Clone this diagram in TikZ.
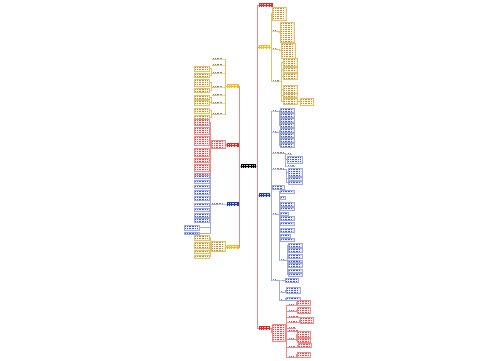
\documentclass[tikz,border=0pt]{standalone}
\usepackage{tikz}
\definecolor{redM}{RGB}{222,40,40}
\definecolor{yelM}{RGB}{240,188,30}
\definecolor{bluM}{RGB}{28,58,168}
\definecolor{yelF}{RGB}{253,248,232}
\definecolor{yelD}{RGB}{226,192,110}
\definecolor{yelT}{RGB}{185,145,70}
\definecolor{redF}{RGB}{253,238,238}
\definecolor{redD}{RGB}{234,140,140}
\definecolor{redT}{RGB}{215,80,80}
\definecolor{bluF}{RGB}{240,243,252}
\definecolor{bluD}{RGB}{160,170,220}
\definecolor{bluT}{RGB}{70,90,190}

\tikzset{
  txtlines/.style={path picture={
      \foreach \k in {1,...,18}
        \draw[#1, line width=0.45pt, dash pattern=on 1pt off 0.6pt]
          ([xshift=1.4pt,yshift=-\k*2pt+0.4pt]path picture bounding box.north west) --
          ([xshift=-1.4pt,yshift=-\k*2pt+0.4pt]path picture bounding box.north east);}},
  mainnode/.style={rectangle, fill=#1, minimum height=4, txtlines=white!80!#1},
  leafY/.style={rectangle, draw=yelD, fill=yelF, line width=0.3pt, txtlines=yelT},
  leafR/.style={rectangle, draw=redD, fill=redF, line width=0.3pt, txtlines=redT},
  leafB/.style={rectangle, draw=bluD, fill=bluF, line width=0.3pt, txtlines=bluT},
  subnode/.style={rectangle, minimum height=2, txtlines=#1},
  linkM/.style={draw=redD, line width=0.5pt},
  linkY/.style={draw=yelD, line width=0.4pt},
  linkR/.style={draw=redD, line width=0.4pt},
  linkB/.style={draw=bluD, line width=0.4pt}
}

\begin{document}
\begin{tikzpicture}[x=1pt, y=-1pt, every node/.style={inner sep=0pt, outer sep=0pt, anchor=north west}]
  \useasboundingbox (0,0) rectangle (500,360);

  % centre and main branches
  \node[mainnode=black, minimum width=15] (root) at (241,164) {};
  \node[mainnode=redM, minimum width=14] (r1) at (259,3) {};
  \node[mainnode=yelM, minimum width=11] (r2) at (259,45) {};
  \node[mainnode=bluM, minimum width=11] (r3) at (259,193) {};
  \node[mainnode=redM, minimum width=11] (r4) at (259,326) {};
  \node[mainnode=yelM, minimum width=12] (l1) at (227,84) {};
  \node[mainnode=redM, minimum width=12] (l2) at (227,143) {};
  \node[mainnode=bluM, minimum width=12] (l3) at (227,202) {};
  \node[mainnode=yelM, minimum width=12] (l4) at (227,245) {};
  \foreach \n in {r1,r2,r3,r4}
    \draw[linkM] (root.east) -- ++(1.5,0) |- (\n.west);
  \foreach \n in {l1,l2,l3,l4}
    \draw[linkM] (root.west) -- ++(-1.5,0) |- (\n.east);

  % right, yellow
  \node[leafY, minimum width=14, minimum height=13] (r2a) at (272,7) {};
  \node[subnode=gray, minimum width=6] (r2s1) at (272,29) {};
  \node[subnode=gray, minimum width=6] (r2s2) at (272,47) {};
  \node[subnode=gray, minimum width=8] (r2s3) at (272,79) {};
  \node[leafY, minimum width=14, minimum height=20] (r2b) at (280,22) {};
  \node[leafY, minimum width=14, minimum height=15] (r2c) at (281,43) {};
  \draw[linkY] (r2.east) -- ++(1.5,0) |- (r2a.west);
  \foreach \n in {r2s1,r2s2,r2s3}
    \draw[linkY] (r2.east) -- ++(1.5,0) |- (\n.south west) -- (\n.south east);
  \draw[linkY] (r2s1.south east) -- ++(1,0) |- (r2b.west);
  \draw[linkY] (r2s2.south east) -- ++(1,0) |- (r2c.west);
  \foreach \y/\h [count=\i] in {58/8,67/5,73/6,85/8,93/4,98/6} {
    \node[leafY, minimum width=14, minimum height=\h] (r2x\i) at (283,\y) {};
    \draw[linkY] (r2s3.south east) -- ++(1.5,0) |- (r2x\i.west);
  }
  \node[leafY, minimum width=13, minimum height=7] (r2y) at (300,98) {};
  \draw[linkY] (r2x6.east) -- (r2y.west |- r2x6.east);

  % right, blue
  \node[subnode=gray, minimum width=6] (b1) at (272,109) {};
  \node[subnode=gray, minimum width=6] (b2) at (272,130) {};
  \node[subnode=gray, minimum width=13] (b3) at (272,151) {};
  \node[subnode=gray, minimum width=13] (b4) at (272,167) {};
  \node[leafB, minimum width=12, minimum height=4] (b5) at (272,185) {};
  \node[subnode=gray, minimum width=6] (b6) at (272,212) {};
  \node[subnode=gray, minimum width=6] (b8) at (272,278) {};
  \draw[linkB] (r3.east) -- ++(1.5,0) |- (b5.west);
  \foreach \n in {b1,b2,b3,b4,b6,b8}
    \draw[linkB] (r3.east) -- ++(1.5,0) |- (\n.south west) -- (\n.south east);
  \foreach \y [count=\i] in {108,113,118,123} {
    \node[leafB, minimum width=14, minimum height=4] (b1x\i) at (280,\y) {};
    \draw[linkB] (b1.south east) -- ++(1,0) |- (b1x\i.west);
  }
  \foreach \y [count=\i] in {128,133,138,143} {
    \node[leafB, minimum width=14, minimum height=4] (b2x\i) at (280,\y) {};
    \draw[linkB] (b2.south east) -- ++(1,0) |- (b2x\i.west);
  }
  \node[subnode=gray, minimum width=5] (b3s1) at (287,152) {};
  \node[leafB, minimum width=15, minimum height=7] (b3x) at (287,156) {};
  \node[subnode=gray, minimum width=8] (b3s2) at (287,164) {};
  \draw[linkB] (b3.south east) -- ++(0.5,0) |- (b3x.west);
  \foreach \n in {b3s1,b3s2}
    \draw[linkB] (b3.south east) -- ++(0.5,0) |- (\n.south west) -- (\n.south east);
  \foreach \y/\h [count=\i] in {168/8,177/3,181/3} {
    \node[leafB, minimum width=14, minimum height=\h] (b4x\i) at (288,\y) {};
    \draw[linkB] (b4.south east) -- ++(1,0) |- (b4x\i.west);
  }
  \foreach \y/\w/\h [count=\i] in {190/14/3,196/5/3,202/14/4,207/14/3,212/8/3,216/14/4,222/14/3,228/14/4,234/10/3,238/14/3} {
    \node[leafB, minimum width=\w, minimum height=\h] (b6x\i) at (280,\y) {};
    \draw[linkB] (b6.south east) -- ++(1,0) |- (b6x\i.west);
  }
  \node[subnode=gray, minimum width=6] (b7) at (280,258) {};
  \draw[linkB] (b6.south east) -- ++(1,0) |- (b7.south west) -- (b7.south east);
  \foreach \y/\h [count=\i] in {243/4,248/4,254/4,260/2,263/4,269/3,273/3} {
    \node[leafB, minimum width=14, minimum height=\h] (b7x\i) at (288,\y) {};
    \draw[linkB] (b7.south east) -- ++(1,0) |- (b7x\i.west);
  }
  \node[leafB, minimum width=13, minimum height=4] (b8x) at (285,278) {};
  \node[subnode=gray, minimum width=4] (b8a) at (280,290) {};
  \node[subnode=gray, minimum width=4] (b8b) at (280,298) {};
  \node[leafB, minimum width=14, minimum height=6] (b8ax) at (286,287) {};
  \node[leafB, minimum width=14, minimum height=3] (b8bx) at (286,297) {};
  \draw[linkB] (b8.south east) -- ++(1,0) |- (b8x.west);
  \foreach \n in {b8a,b8b}
    \draw[linkB] (b8.south east) -- ++(1,0) |- (\n.south west) -- (\n.south east);
  \draw[linkB] (b8a.south east) -- ++(1,0) |- (b8ax.west);
  \draw[linkB] (b8b.south east) -- ++(1,0) |- (b8bx.west);

  % right, red
  \node[leafR, minimum width=13, minimum height=17] (r4c) at (272,324) {};
  \draw[linkR] (r4.east) -- ++(1,0) |- (r4c.west);
  \foreach \y/\w [count=\i] in {303/7,309/7,315/12,320/10,326/8,329/12,337/7,345/8,355/7} {
    \node[subnode=redT, minimum width=\w] (r4s\i) at (288,\y) {};
    \draw[linkR] (r4c.east) -- ++(1.5,0) |- (r4s\i.south west) -- (r4s\i.south east);
  }
  \foreach \s/\x/\y/\h [count=\i] in {1/297/300/5,2/297/307/6,4/300/317/6,7/297/331/6,7/297/338/4,8/298/343/4,9/297/352/5} {
    \node[leafR, minimum width=13, minimum height=\h] (r4x\i) at (\x,\y) {};
    \draw[linkR] (r4s\s.south east) -- ++(1,0) |- (r4x\i.west);
  }

  % left, yellow
  \foreach \y [count=\i] in {57,63,71,85,93,101,112} {
    \node[subnode=gray, minimum width=12] (l1s\i) at (212,\y) {};
    \draw[linkY] (l1.west) -- ++(-1.5,0) |- (l1s\i.south east) -- (l1s\i.south west);
  }
  \foreach \s/\y/\h [count=\i] in {3/66/5,3/73/4,4/79/7,4/88/4,6/95/4,6/100/5,7/108/5,7/115/4} {
    \node[leafY, minimum width=15, minimum height=\h] (l1x\i) at (194,\y) {};
    \draw[linkY] (l1s\s.south west) -- ++(-1,0) |- (l1x\i.east);
  }

  % left, red
  \node[leafR, minimum width=14, minimum height=8] (l2c) at (211,140) {};
  \draw[linkR] (l2.west) -- ++(-1,0) |- (l2c.east);
  \foreach \y/\h [count=\i] in {119/6,127/7,136/9,148/8,158/4,164/7,173/4} {
    \node[leafR, minimum width=15, minimum height=\h] (l2x\i) at (194,\y) {};
    \draw[linkR] (l2c.west) -- ++(-1,0) |- (l2x\i.east);
  }

  % left, blue
  \node[subnode=gray, minimum width=14] (l3s) at (211,202) {};
  \draw[linkB] (l3.west) -- ++(-1,0) |- (l3s.south east) -- (l3s.south west);
  \foreach \x/\y/\h [count=\i] in {194/175/3,194/180/3,194/185/3,194/190/4,194/196/4,194/203/3,194/208/3,194/213/4,194/218/4,184/225/5,184/232/2} {
    \node[leafB, minimum width=15, minimum height=\h] (l3x\i) at (\x,\y) {};
    \draw[linkB] (l3s.south west) -- ++(-1,0) |- (l3x\i.east);
  }

  % left, yellow (lower)
  \node[leafY, minimum width=14, minimum height=10] (l4c) at (211,241) {};
  \draw[linkY] (l4.west) -- ++(-1,0) |- (l4c.east);
  \foreach \y/\h [count=\i] in {235/5,242/6,250/3,255/3} {
    \node[leafY, minimum width=15, minimum height=\h] (l4x\i) at (194,\y) {};
    \draw[linkY] (l4c.west) -- ++(-1,0) |- (l4x\i.east);
  }
\end{tikzpicture}
\end{document}
